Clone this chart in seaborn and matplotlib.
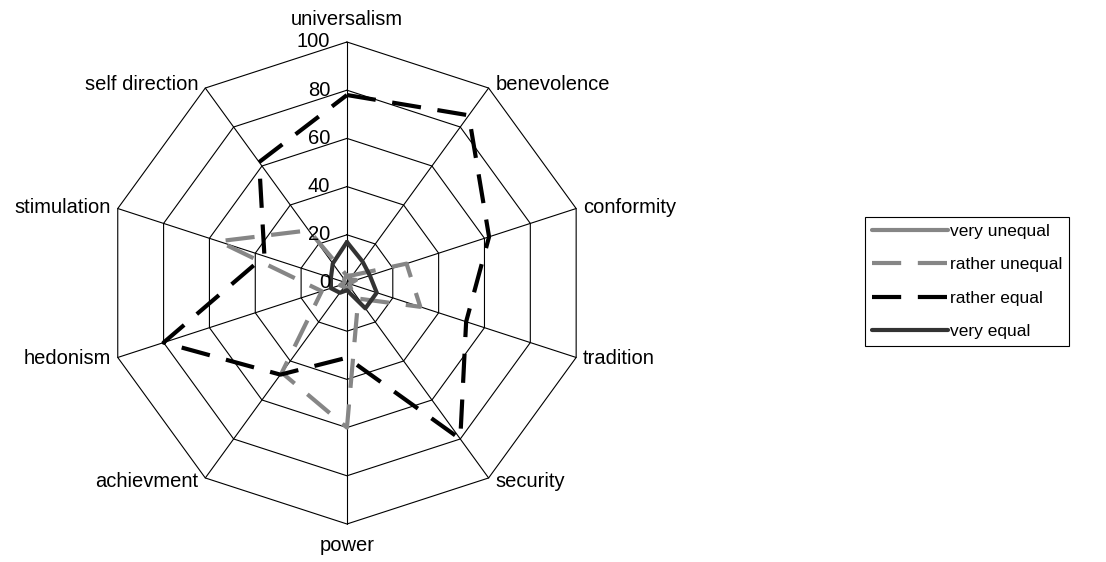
import numpy as np
import pandas as pd
import matplotlib
matplotlib.use("Agg")
import matplotlib.pyplot as plt
import seaborn as sns

categories = ["universalism", "benevolence", "conformity", "tradition", "security",
              "power", "achievment", "hedonism", "stimulation", "self direction"]
very_unequal = [3, 2, 4, 1, 3, 2, 2, 3, 1, 2]
rather_unequal = [3, 4, 26, 32, 8, 60, 46, 11, 56, 27]
rather_equal = [78, 86, 62, 52, 80, 31, 47, 80, 36, 62]
very_equal = [17, 11, 10, 13, 13, 3, 5, 7, 7, 10]
series_names = ["very unequal", "rather unequal", "rather equal", "very equal"]
ring_ticks = [0, 20, 40, 60, 80, 100]

n = len(categories)
theta = np.linspace(0, 2 * np.pi, n, endpoint=False)
theta_closed = np.append(theta, 2 * np.pi)

rows = []
for name, vals in zip(series_names, [very_unequal, rather_unequal, rather_equal, very_equal]):
    closed = list(vals) + [vals[0]]
    for t, v in zip(theta_closed, closed):
        rows.append({"series": name, "theta": t, "value": v})
df = pd.DataFrame(rows)

sns.set_style("white")
plt.rcParams["font.family"] = ["Liberation Sans", "DejaVu Sans"]
plt.rcParams["text.color"] = "black"

fig = plt.figure(figsize=(11.06, 5.62), dpi=100)
ax = fig.add_axes([0.0958, 0.0676, 0.4358, 0.8577], projection="polar")
ax.set_theta_zero_location("N")
ax.set_theta_direction(-1)
ax.set_ylim(0, 100)
ax.grid(False)
ax.spines["polar"].set_visible(False)
ax.set_xticks([])
ax.set_yticks([])

# decagon grid
for r in ring_ticks[1:]:
    ax.plot(theta_closed, [r] * (n + 1), color="black", lw=0.8, clip_on=False, zorder=1)
for t in theta:
    ax.plot([t, t], [0, 100], color="black", lw=0.8, clip_on=False, zorder=1)

palette = {"very unequal": "#868686", "rather unequal": "#868686",
           "rather equal": "#000000", "very equal": "#333333"}
dashes = {"very unequal": "", "rather unequal": (7, 4),
          "rather equal": (7, 4), "very equal": ""}
sns.lineplot(data=df, x="theta", y="value", hue="series", style="series",
             hue_order=series_names, style_order=series_names,
             palette=palette, dashes=dashes, sort=False, estimator=None,
             linewidth=3, ax=ax, zorder=3)
for line in ax.lines[-4:]:
    line.set_clip_on(False)
ax.set_xlabel("")
ax.set_ylabel("")

# category labels
for t, name in zip(theta, categories):
    s, c = np.sin(t), np.cos(t)
    if abs(s) < 0.1:
        ha = "center"
        va = "bottom" if c > 0 else "top"
        off = (0, 9 if c > 0 else -9)
    else:
        ha = "left" if s > 0 else "right"
        va = "center"
        off = (5 if s > 0 else -5, 3 * c)
    ax.annotate(name, xy=(t, 100), xytext=off, textcoords="offset points",
                ha=ha, va=va, fontsize=14.5, annotation_clip=False)

# radial tick labels
for v in ring_ticks:
    ax.annotate(str(v), xy=(0, v), xytext=(-12, 0), textcoords="offset points",
                ha="right", va="center", fontsize=14.5, annotation_clip=False)

leg = ax.get_legend()
handles = leg.legend_handles
labels = [tx.get_text() for tx in leg.get_texts()]
leg.remove()
for h in handles:
    h.set_linewidth(3)
fig.legend(handles, labels, loc="upper left",
           bbox_to_anchor=(865 / 1106, 1 - 217 / 562),
           frameon=True, fancybox=False, edgecolor="black", framealpha=1,
           fontsize=12.5, handlelength=4.4, handletextpad=0.1,
           labelspacing=1.05, borderpad=0.4, borderaxespad=0)
leg2 = fig.legends[0]
leg2.get_frame().set_linewidth(0.8)

fig.savefig("out.png", dpi=100, facecolor="white")
